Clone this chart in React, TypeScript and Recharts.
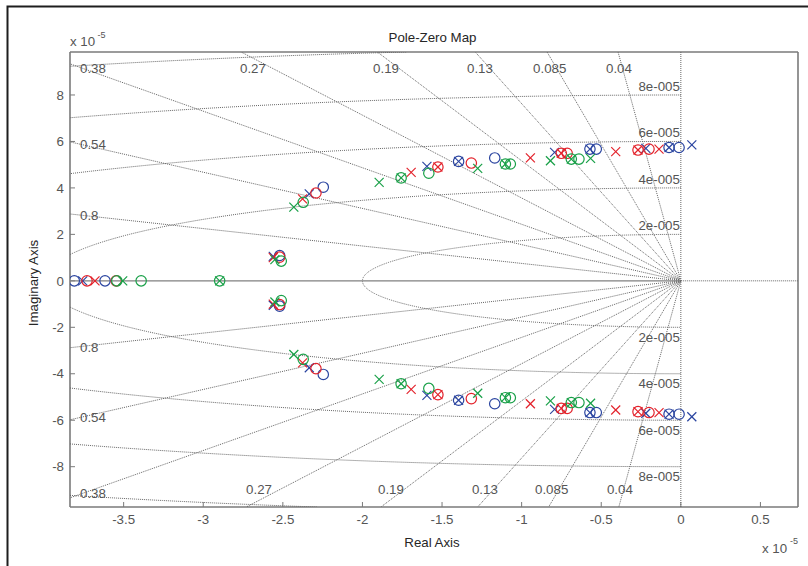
import React from 'react';
import { ComposedChart, Scatter, XAxis, YAxis } from 'recharts';

// ---------- axes ----------
const XMIN = -3.837;
const XMAX = 0.736;
const YMIN = -9.735;
const YMAX = 9.85;
const X_TICKS = [-3.5, -3, -2.5, -2, -1.5, -1, -0.5, 0, 0.5];
const Y_TICKS = [-8, -6, -4, -2, 0, 2, 4, 6, 8];

// ---------- s-plane grid parameters ----------
const DAMPING = [0.04, 0.085, 0.13, 0.19, 0.27, 0.38, 0.54, 0.8];
const FREQS = [2, 4, 6, 8, 10];
const FREQ_LABELS = [2, 4, 6, 8];

// ---------- poles / zeros (x 1e-5) ----------
// real-axis roots
const bluePolesReal = [-3.757];
const blueZerosReal = [-3.81, -3.617];
const redPolesReal = [-3.68];
const redZerosReal = [-3.73, -3.547];
const greenPolesReal = [-3.506, -2.897];
const greenZerosReal = [-3.543, -3.39, -2.897];

// complex roots, upper half (conjugates are mirrored)
const bluePolesCplx: [number, number][] = [
  [-2.56, 1.05], [-2.334, 3.74], [-1.595, 4.93], [-1.396, 5.14], [-0.793, 5.53],
  [-0.571, 5.67], [-0.22, 5.7], [-0.074, 5.74], [0.069, 5.85],
];
const blueZerosCplx: [number, number][] = [
  [-2.52, 1.09], [-2.246, 4.03], [-1.396, 5.14], [-1.169, 5.29], [-0.571, 5.67],
  [-0.531, 5.67], [-0.074, 5.74], [-0.011, 5.74],
];
const redPolesCplx: [number, number][] = [
  [-2.56, 1.0], [-2.376, 3.53], [-1.694, 4.67], [-1.526, 4.9], [-0.945, 5.29],
  [-0.751, 5.49], [-0.409, 5.56], [-0.269, 5.63], [-0.137, 5.67],
];
const redZerosCplx: [number, number][] = [
  [-2.52, 1.02], [-2.292, 3.78], [-1.526, 4.9], [-1.316, 5.07], [-0.751, 5.49],
  [-0.714, 5.49], [-0.269, 5.63], [-0.2, 5.67],
];
const greenPolesCplx: [number, number][] = [
  [-2.55, 0.91], [-2.431, 3.17], [-1.895, 4.24], [-1.757, 4.43], [-1.276, 4.84],
  [-1.102, 5.03], [-0.819, 5.17], [-0.688, 5.24], [-0.567, 5.27],
];
const greenZerosCplx: [number, number][] = [
  [-2.51, 0.85], [-2.372, 3.38], [-1.757, 4.43], [-1.583, 4.63], [-1.102, 5.03],
  [-1.071, 5.03], [-0.688, 5.24], [-0.64, 5.24],
];

// damping-ratio label anchors (annotation positions, data units)
const DAMP_LABEL_TEXT = ['0.38', '0.54', '0.8', '0.27', '0.19', '0.13', '0.085', '0.04',
  '0.8', '0.54', '0.38', '0.27', '0.19', '0.13', '0.085', '0.04'];
const DAMP_LABEL_X = [-3.774, -3.774, -3.774, -2.769, -1.933, -1.343, -0.928, -0.47,
  -3.774, -3.774, -3.774, -2.731, -1.902, -1.312, -0.916, -0.464];
const DAMP_LABEL_Y = [9.16, 5.85, 2.81, 9.16, 9.16, 9.16, 9.16, 9.16,
  -2.85, -5.9, -9.17, -9.0, -9.0, -9.0, -9.0, -9.0];

// ---------- styling ----------
const BLUE = '#2b45a0';
const RED = '#e3222b';
const GREEN = '#19a048';
const GRID = '#666666';
const FRAME = '#7a7a7a';
const TXT = '#555555';
const FONT = '"Liberation Sans", Arial, Helvetica, sans-serif';
const FS = 13.3;

type P = { x: number; y: number; label?: string; up?: boolean };

const toPoints = (real: number[], cplx: [number, number][]): P[] => [
  ...real.map((x) => ({ x, y: 0 })),
  ...cplx.flatMap(([x, y]) => [{ x, y }, { x, y: -y }]),
];

function clipSeg(p: P, q: P): [P, P] | null {
  let t0 = 0;
  let t1 = 1;
  const dx = q.x - p.x;
  const dy = q.y - p.y;
  const checks: [number, number][] = [
    [-dx, p.x - XMIN], [dx, XMAX - p.x], [-dy, p.y - YMIN], [dy, YMAX - p.y],
  ];
  for (const [pp, qq] of checks) {
    if (pp === 0) {
      if (qq < 0) return null;
    } else {
      const r = qq / pp;
      if (pp < 0) {
        if (r > t1) return null;
        if (r > t0) t0 = r;
      } else {
        if (r < t0) return null;
        if (r < t1) t1 = r;
      }
    }
  }
  return [
    { x: p.x + t0 * dx, y: p.y + t0 * dy },
    { x: p.x + t1 * dx, y: p.y + t1 * dy },
  ];
}

function clipPolyline(pts: P[]): P[][] {
  const segs: P[][] = [];
  let cur: P[] | null = null;
  for (let i = 0; i < pts.length - 1; i++) {
    const c = clipSeg(pts[i], pts[i + 1]);
    if (!c) {
      if (cur) { segs.push(cur); cur = null; }
      continue;
    }
    if (!cur) cur = [c[0]];
    cur.push(c[1]);
    if (c[1].x !== pts[i + 1].x || c[1].y !== pts[i + 1].y) {
      segs.push(cur);
      cur = null;
    }
  }
  if (cur && cur.length > 1) segs.push(cur);
  return segs;
}

// grid: damping rays and natural frequency arcs
const gridSegments: P[][] = [];
DAMPING.forEach((z) => {
  const s = Math.sqrt(1 - z * z);
  [1, -1].forEach((sg) => {
    gridSegments.push(...clipPolyline([{ x: 0, y: 0 }, { x: -60 * z, y: sg * 60 * s }]));
  });
});
FREQS.forEach((w) => {
  const pts: P[] = [];
  const N = 720;
  for (let i = 0; i <= N; i++) {
    const th = (Math.PI * i) / N;
    pts.push({ x: -w * Math.sin(th), y: w * Math.cos(th) });
  }
  gridSegments.push(...clipPolyline(pts));
});

const realAxisLeft: P[] = [{ x: XMIN, y: 0 }, { x: 0, y: 0 }];
const realAxisRight: P[] = [{ x: 0, y: 0 }, { x: XMAX, y: 0 }];
const imagAxis: P[] = [{ x: 0, y: YMIN }, { x: 0, y: YMAX }];

const dampLabels: P[] = DAMP_LABEL_TEXT.map((label, i) => ({
  x: DAMP_LABEL_X[i], y: DAMP_LABEL_Y[i], label,
}));
const freqLabels: P[] = FREQ_LABELS.flatMap((w) => [
  { x: 0, y: w, label: `${w}e-005`, up: true },
  { x: 0, y: -w, label: `${w}e-005`, up: false },
]);

const NoShape = () => <g />;

const makeCross = (color: string) => (props: any) => {
  const { cx, cy } = props;
  const s = 4.5;
  return (
    <g stroke={color} strokeWidth={1.2}>
      <line x1={cx - s} y1={cy - s} x2={cx + s} y2={cy + s} />
      <line x1={cx - s} y1={cy + s} x2={cx + s} y2={cy - s} />
    </g>
  );
};
const makeRing = (color: string) => (props: any) => (
  <circle cx={props.cx} cy={props.cy} r={5.2} fill="none" stroke={color} strokeWidth={1.2} />
);

const DampLabel = (props: any) => (
  <text x={props.cx} y={props.cy} textAnchor="start" dominantBaseline="central"
    fontFamily={FONT} fontSize={FS} fill={TXT}>{props.payload.label}</text>
);
const FreqLabel = (props: any) => (
  <text x={props.cx - 1} y={props.cy + (props.payload.up ? -8.5 : 10)} textAnchor="end"
    dominantBaseline="central" fontFamily={FONT} fontSize={FS} fill={TXT}>{props.payload.label}</text>
);

const series = [
  { name: 'bz', data: toPoints(blueZerosReal, blueZerosCplx), shape: makeRing(BLUE) },
  { name: 'bp', data: toPoints(bluePolesReal, bluePolesCplx), shape: makeCross(BLUE) },
  { name: 'rz', data: toPoints(redZerosReal, redZerosCplx), shape: makeRing(RED) },
  { name: 'rp', data: toPoints(redPolesReal, redPolesCplx), shape: makeCross(RED) },
  { name: 'gz', data: toPoints(greenZerosReal, greenZerosCplx), shape: makeRing(GREEN) },
  { name: 'gp', data: toPoints(greenPolesReal, greenPolesCplx), shape: makeCross(GREEN) },
];

const fmt = (v: number) => String(v);
const blank = () => '';

export default function App() {
  const gridLine = { stroke: GRID, strokeWidth: 1, strokeDasharray: '1 1' };
  return (
    <div style={{ position: 'absolute', left: 0, top: 0, width: 808, height: 566, background: '#fff' }}>
      <ComposedChart width={808} height={566} margin={{ top: 42, right: 0, bottom: 29, left: 10 }}>
        <XAxis xAxisId="b" type="number" dataKey="x" domain={[XMIN, XMAX]} allowDataOverflow
          ticks={X_TICKS} interval={0} tickFormatter={fmt} height={30} tickSize={-5} tickMargin={13}
          axisLine={{ stroke: FRAME, strokeWidth: 1.6 }} tickLine={{ stroke: FRAME }}
          tick={{ fill: TXT, fontSize: FS, fontFamily: FONT }} />
        <XAxis xAxisId="t" orientation="top" type="number" dataKey="x" domain={[XMIN, XMAX]} allowDataOverflow
          ticks={X_TICKS} interval={0} tickFormatter={blank} height={10} tickSize={-5}
          axisLine={{ stroke: FRAME, strokeWidth: 1.6 }} tickLine={{ stroke: FRAME }} tick={false} />
        <YAxis yAxisId="l" type="number" dataKey="y" domain={[YMIN, YMAX]} allowDataOverflow
          ticks={Y_TICKS} interval={0} tickFormatter={fmt} width={60} tickSize={-5} tickMargin={11}
          axisLine={{ stroke: FRAME, strokeWidth: 1.6 }} tickLine={{ stroke: FRAME }}
          tick={{ fill: TXT, fontSize: FS, fontFamily: FONT }} />
        <YAxis yAxisId="r" orientation="right" type="number" dataKey="y" domain={[YMIN, YMAX]} allowDataOverflow
          ticks={Y_TICKS} interval={0} tickFormatter={blank} width={10} tickSize={-5}
          axisLine={{ stroke: FRAME, strokeWidth: 1.6 }} tickLine={{ stroke: FRAME }} tick={false} />

        {gridSegments.map((seg, i) => (
          <Scatter key={`g${i}`} xAxisId="b" yAxisId="l" data={seg} line={gridLine}
            shape={NoShape} isAnimationActive={false} />
        ))}
        <Scatter xAxisId="b" yAxisId="l" data={realAxisLeft}
          line={{ stroke: '#808080', strokeWidth: 1.4 }} shape={NoShape} isAnimationActive={false} />
        <Scatter xAxisId="b" yAxisId="l" data={realAxisRight} line={gridLine}
          shape={NoShape} isAnimationActive={false} />
        <Scatter xAxisId="b" yAxisId="l" data={imagAxis} line={gridLine}
          shape={NoShape} isAnimationActive={false} />

        <Scatter xAxisId="b" yAxisId="l" data={dampLabels} shape={DampLabel} isAnimationActive={false} />
        <Scatter xAxisId="b" yAxisId="l" data={freqLabels} shape={FreqLabel} isAnimationActive={false} />

        {series.map((s) => (
          <Scatter key={s.name} xAxisId="b" yAxisId="l" data={s.data} shape={s.shape}
            isAnimationActive={false} />
        ))}
      </ComposedChart>
      <svg width={808} height={566} style={{ position: 'absolute', left: 0, top: 0, pointerEvents: 'none' }}>
        <path d="M7.5 566 V6.5 H808" fill="none" stroke="#1e1e1e" strokeWidth={2} />
        <text x={432.5} y={41.5} textAnchor="middle" fontFamily={FONT} fontSize={FS} fill="#262626">Pole-Zero Map</text>
        <text x={432} y={547} textAnchor="middle" fontFamily={FONT} fontSize={FS} fill="#262626">Real Axis</text>
        <text transform="translate(38,283) rotate(-90)" textAnchor="middle" fontFamily={FONT} fontSize={FS} fill="#262626">Imaginary Axis</text>
        <text x={70} y={46} fontFamily={FONT} fontSize={FS} fill={TXT}>x 10</text>
        <text x={97.5} y={38} fontFamily={FONT} fontSize={9} fill={TXT}>-5</text>
        <text x={762} y={553} fontFamily={FONT} fontSize={FS} fill={TXT}>x 10</text>
        <text x={790} y={544} fontFamily={FONT} fontSize={9} fill={TXT}>-5</text>
      </svg>
    </div>
  );
}
